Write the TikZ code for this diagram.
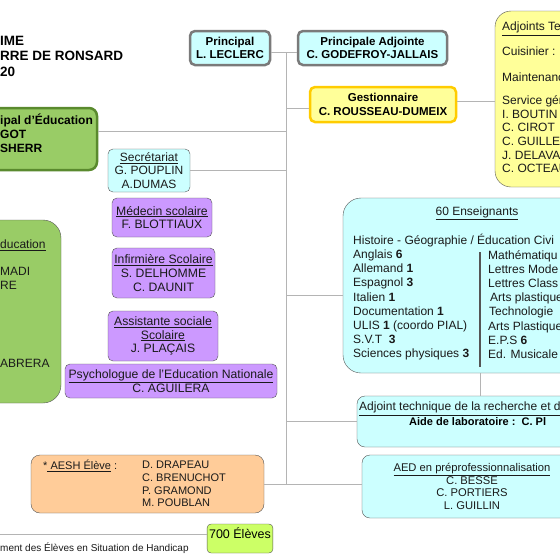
\documentclass[tikz,border=0pt]{standalone}
\usepackage{fontspec}
\setmainfont{Liberation Sans}
\usetikzlibrary{positioning}
\definecolor{cyanbox}{HTML}{CCFFFF}
\definecolor{yellowbox}{HTML}{FFFF99}
\definecolor{goldline}{HTML}{FFCC00}
\definecolor{greenbox}{HTML}{99CC66}
\definecolor{greenline}{HTML}{5A8A2E}
\definecolor{purplebox}{HTML}{CC99FF}
\definecolor{peachbox}{HTML}{FFCC99}
\definecolor{limebox}{HTML}{CCFF66}
\definecolor{boxline}{HTML}{555555}
\definecolor{headline}{HTML}{7A7A7A}
\definecolor{linegray}{HTML}{B4B4B4}
\definecolor{textdark}{HTML}{1A1A1A}

\begin{document}
\begin{tikzpicture}[
    x=1pt, y=-1pt,
    box/.style={rectangle, draw=boxline, rounded corners=5pt, inner sep=0pt, align=center, text=textdark},
    cbox/.style={box, fill=cyanbox},
    pbox/.style={box, fill=purplebox, font=\fontsize{12.2}{13.8}\selectfont},
    headbox/.style={box, fill=cyanbox, draw=headline, line width=2.5pt, text=black, font=\bfseries\fontsize{11.5}{13.5}\selectfont},
    txt/.style={anchor=north west, inner sep=0pt, align=left, text=textdark},
    line/.style={draw=linegray, line width=1pt},
    every node/.style={font=\fontsize{12}{13.6}\selectfont}
]
    \useasboundingbox (0,0) rectangle (560,560);
    \clip (0,0) rectangle (560,560);
    \fill[white] (0,0) rectangle (560,560);

    % Title (cut by the frame)
    \node[txt, text=black, font=\bfseries\fontsize{13.5}{15.5}\selectfont] (title) at (0,36) {IME\\RRE DE RONSARD\\20};

    % Direction
    \node[headbox, minimum width=80pt, minimum height=34pt] (principal) at (230,48) {Principal\\L. LECLERC};
    \node[headbox, minimum width=149pt, minimum height=34pt] (adjointe) at (372.5,48) {Principale Adjointe\\C. GODEFROY-JALLAIS};
    \node[headbox, fill=yellowbox, draw=goldline, minimum width=146pt, minimum height=35pt] (gestion) at (383,104.5) {Gestionnaire\\C. ROUSSEAU-DUMEIX};

    % Adjoints techniques
    \node[box, fill=yellowbox, rounded corners=16pt, minimum width=150pt, minimum height=176pt] (adjtec) at (570,99) {};
    \node[txt] (adjtectxt) at (502,22) {\underline{Adjoints Tec}\\[11pt]Cuisinier :\\[12pt]Maintenanc\\[10pt]Service gén\\I. BOUTIN\\C. CIROT\\C. GUILLET\\J. DELAVAL\\C. OCTEAU};

    % Vie scolaire
    \node[box, draw=greenline, fill=greenbox, line width=2.5pt, rounded corners=8pt, minimum width=180pt, minimum height=62pt] (cpe) at (7,139) {};
    \node[txt, text=black, font=\bfseries\fontsize{12}{14}\selectfont] (cpetxt) at (0,114) {ipal d’Éducation\\GOT\\SHERR};
    \node[box, fill=greenbox, rounded corners=18pt, minimum width=140pt, minimum height=183pt] (vie) at (-9,311.5) {};
    \node[txt] (vietxt) at (0,240) {\underline{ducation}\\[13pt]MADI\\RE\\[65pt]ABRERA};

    % Secretariat and medico-social
    \node[cbox, minimum width=82pt, minimum height=43pt] (secr) at (149,170.5) {\underline{Secrétariat}\\G. POUPLIN\\A.DUMAS};
    \node[pbox, minimum width=100pt, minimum height=39pt] (med) at (162,217.5) {\underline{Médecin scolaire}\\F. BLOTTIAUX};
    \node[pbox, minimum width=103pt, minimum height=50pt] (inf) at (163.5,273) {\underline{Infirmière Scolaire}\\S. DELHOMME\\C. DAUNIT};
    \node[pbox, minimum width=110pt, minimum height=50pt] (soc) at (163,336) {\underline{Assistante sociale}\\\underline{Scolaire}\\J. PLAÇAIS};
    \node[pbox, minimum width=212pt, minimum height=34pt] (psy) at (171,381) {\underline{Psychologue de l'Education Nationale}\\C. AGUILERA};

    % Enseignants
    \node[cbox, rounded corners=18pt, minimum width=274pt, minimum height=175pt] (ens) at (480,285.5) {};
    \node[inner sep=0pt, text=textdark] (enstitle) at (477,213) {\underline{60 Enseignants}};
    \node[txt, font=\fontsize{12}{14.1}\selectfont] (ensleft) at (353,234) {Histoire - Géographie / Éducation Civi\\Anglais \textbf{6}\\Allemand \textbf{1}\\Espagnol \textbf{3}\\Italien \textbf{1}\\Documentation \textbf{1}\\ULIS \textbf{1} (coordo PIAL)\\S.V.T \ \textbf{3}\\Sciences physiques \textbf{3}};
    \node[txt, font=\fontsize{12}{14.1}\selectfont] (ensright) at (488,250.5) {Mathématiqu\\Lettres Mode\\Lettres Class\\\hspace{2pt}Arts plastique\\\hspace{1pt}Technologie\\Arts Plastique\\E.P.S \textbf{6}\\Ed. Musicale};
    \draw[boxline, line width=1.5pt] (480,252) -- (480,367);

    % Adjoint technique recherche
    \node[cbox, rounded corners=8pt, minimum width=263pt, minimum height=51pt] (at) at (488.5,421.5) {};
    \node[txt] (attitle) at (359,402) {\underline{Adjoint technique de la recherche et d}};
    \node[txt, text=black, font=\bfseries\fontsize{11}{13}\selectfont] (atlab) at (409,417) {Aide de laboratoire :\ \ C. Pl};

    % AED and AESH
    \node[cbox, rounded corners=8pt, minimum width=220pt, minimum height=63pt, font=\fontsize{11.2}{12.7}\selectfont] (aed) at (472,486.5) {\underline{AED en préprofessionnalisation}\\C. BESSE\\C. PORTIERS\\L. GUILLIN};
    \node[box, fill=peachbox, rounded corners=9pt, minimum width=233pt, minimum height=58pt] (aesh) at (147.5,484) {};
    \node[txt, font=\fontsize{11}{12.7}\selectfont] (aeshlbl) at (43,459.5) {*\underline{ AESH Élève} :};
    \node[txt, font=\fontsize{11}{12.7}\selectfont] (aeshnames) at (142,461) {D. DRAPEAU\\C. BRENUCHOT\\P. GRAMOND\\M. POUBLAN};

    % Eleves
    \node[box, fill=limebox, rounded corners=4pt, inner sep=2pt, text height=12pt, text depth=13pt, minimum width=64pt, text=black, font=\fontsize{12.5}{14}\selectfont] (eleves) at (240,538.5) {700 Élèves};
    \node[anchor=west, inner sep=0pt, text=textdark, font=\fontsize{10}{12}\selectfont] (note) at (0,548) {ment des Élèves en Situation de Handicap};

    % Connectors
    \coordinate (trunktop) at (286,52);
    \coordinate (trunkbot) at (286,485);
    \coordinate (noteend) at (-2,534);
    \draw[line] ([yshift=-4pt]principal.east) -- ([yshift=-4pt]adjointe.west);
    \draw[line] (trunktop) -- (trunkbot);
    \draw[line] ([yshift=-3.5pt]gestion.west) -- ([yshift=-3.5pt]gestion.west -| trunktop);
    \draw[line] ([yshift=3.5pt]gestion.east) -- ([yshift=3.5pt]gestion.east -| adjtec.west);
    \draw[line] ([yshift=8pt]cpe.east) -- ([yshift=8pt]cpe.east -| trunktop);
    \draw[line] (secr.east) -- (secr.east -| trunktop);
    \draw[line] ([yshift=-9.5pt]ens.west) -- ([yshift=-9.5pt]ens.west -| trunktop);
    \draw[line] (at.west) -- (at.west -| trunktop);
    \draw[line] (aesh.east) -- (aesh.east -| aed.west);
    \draw[line] (ens.south) -- (at.north -| ens.south);
    \draw[line] ([yshift=4.5pt]eleves.west) -- (noteend);
\end{tikzpicture}
\end{document}
